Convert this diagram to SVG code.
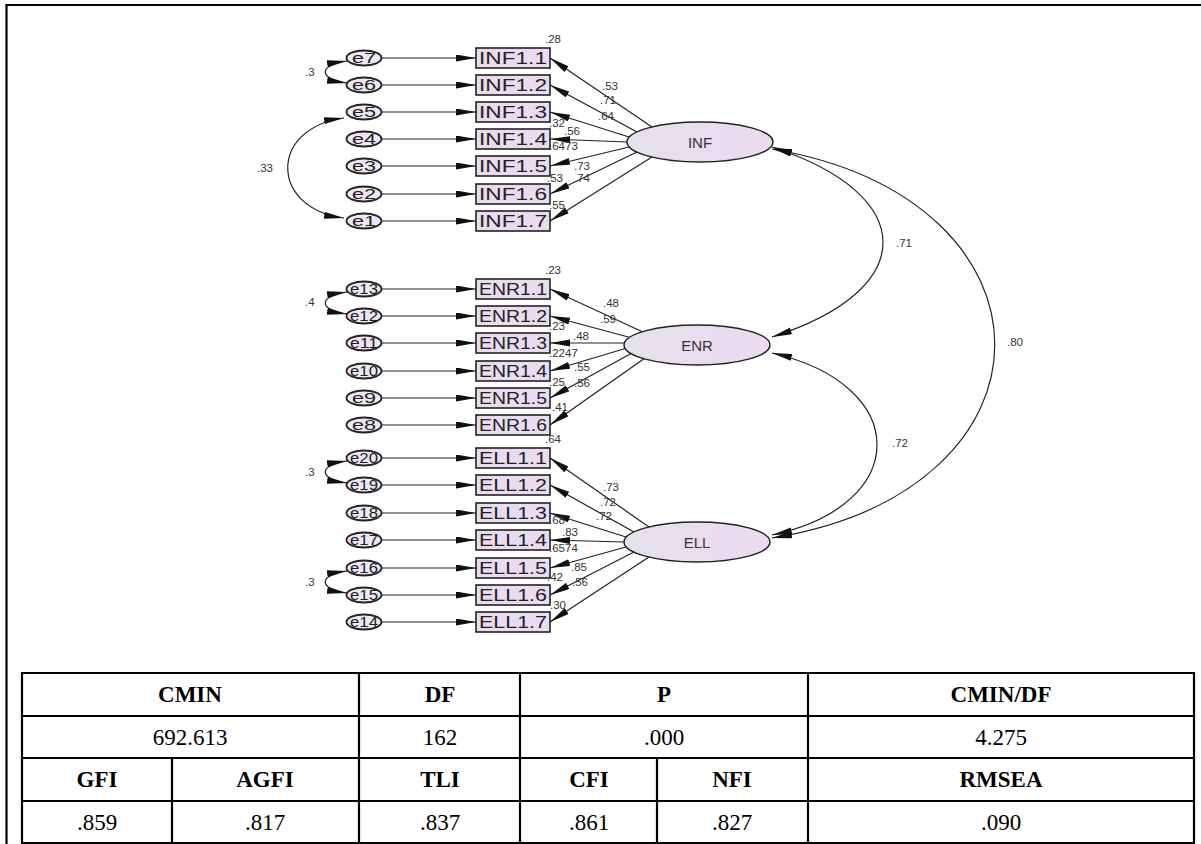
<svg xmlns="http://www.w3.org/2000/svg" width="1201" height="844" viewBox="0 0 1201 844">
<style>
.frame{stroke:#000;stroke-width:2.2;fill:none}
.err ellipse{fill:#efe5f4;stroke:#222;stroke-width:1.8}
.err text{font-family:"Liberation Sans",Arial,sans-serif;font-size:14px;fill:#222;text-anchor:middle}
.obs rect{fill:#eadcf0;stroke:#222;stroke-width:1.6}
.obs text{font-family:"Liberation Sans",Arial,sans-serif;font-size:17px;fill:#222}
.lat ellipse{fill:url(#lg);stroke:#222;stroke-width:1.5}
.lat text{font-family:"Liberation Sans",Arial,sans-serif;font-size:15px;fill:#333;text-anchor:middle}
.conn line,.conn path{stroke:#222;stroke-width:1.2;fill:none}
.conn .a{marker-end:url(#ah)}
.conn .b{marker-start:url(#ahs);marker-end:url(#ah)}
.lbl{font-family:"Liberation Sans",Arial,sans-serif;font-size:11.5px;fill:#333}
.tb line{stroke:#000;stroke-width:2.2}
.tb text{font-family:"Liberation Serif","Times New Roman",serif;font-size:23px;fill:#000;text-anchor:middle}
.tb .h{font-weight:bold}
</style>
<defs>
<linearGradient id="lg" x1="0" y1="0" x2="1" y2="0">
<stop offset="0" stop-color="#e4e2ec"/>
<stop offset="1" stop-color="#ecd9f0"/>
</linearGradient>
<marker id="ah" markerUnits="userSpaceOnUse" markerWidth="22" markerHeight="8" refX="20" refY="3.5" orient="auto">
<path d="M0,0 L20,3.5 L0,7 z" fill="#111"/>
</marker>
<marker id="ahs" markerUnits="userSpaceOnUse" markerWidth="22" markerHeight="8" refX="20" refY="3.5" orient="auto-start-reverse">
<path d="M0,0 L20,3.5 L0,7 z" fill="#111"/>
</marker>
</defs>
<rect width="1201" height="844" fill="#fff"/>
<path class="frame" d="M6.5,844 V5 H1201"/>

<g id="connectors" class="conn">
<line class="a" x1="381" y1="58" x2="476" y2="58"/>
<line class="a" x1="381" y1="85" x2="476" y2="85"/>
<line class="a" x1="381" y1="112" x2="476" y2="112"/>
<line class="a" x1="381" y1="139" x2="476" y2="139"/>
<line class="a" x1="381" y1="166" x2="476" y2="166"/>
<line class="a" x1="381" y1="194" x2="476" y2="194"/>
<line class="a" x1="381" y1="221" x2="476" y2="221"/>
<line class="a" x1="381" y1="289" x2="476" y2="289"/>
<line class="a" x1="381" y1="316" x2="476" y2="316"/>
<line class="a" x1="381" y1="343" x2="476" y2="343"/>
<line class="a" x1="381" y1="371" x2="476" y2="371"/>
<line class="a" x1="381" y1="398" x2="476" y2="398"/>
<line class="a" x1="381" y1="425" x2="476" y2="425"/>
<line class="a" x1="381" y1="458" x2="476" y2="458"/>
<line class="a" x1="381" y1="485" x2="476" y2="485"/>
<line class="a" x1="381" y1="513" x2="476" y2="513"/>
<line class="a" x1="381" y1="540" x2="476" y2="540"/>
<line class="a" x1="381" y1="568" x2="476" y2="568"/>
<line class="a" x1="381" y1="595" x2="476" y2="595"/>
<line class="a" x1="381" y1="622" x2="476" y2="622"/>
<line class="a" x1="652" y1="127" x2="550" y2="58"/>
<line class="a" x1="637" y1="132" x2="550" y2="85"/>
<line class="a" x1="629" y1="137" x2="550" y2="112"/>
<line class="a" x1="627" y1="142" x2="550" y2="139"/>
<line class="a" x1="629" y1="147" x2="550" y2="166"/>
<line class="a" x1="637" y1="152" x2="550" y2="194"/>
<line class="a" x1="652" y1="157" x2="550" y2="221"/>
<line class="a" x1="645" y1="333" x2="550" y2="289"/>
<line class="a" x1="632" y1="338" x2="550" y2="316"/>
<line class="a" x1="627" y1="343" x2="550" y2="343"/>
<line class="a" x1="627" y1="348" x2="550" y2="371"/>
<line class="a" x1="632" y1="353" x2="550" y2="398"/>
<line class="a" x1="645" y1="358" x2="550" y2="425"/>
<line class="a" x1="649" y1="527" x2="550" y2="458"/>
<line class="a" x1="634" y1="532" x2="550" y2="485"/>
<line class="a" x1="626" y1="537" x2="550" y2="513"/>
<line class="a" x1="624" y1="542" x2="550" y2="540"/>
<line class="a" x1="626" y1="547" x2="550" y2="568"/>
<line class="a" x1="634" y1="552" x2="550" y2="595"/>
<line class="a" x1="649" y1="557" x2="550" y2="622"/>
<path class="b" d="M344,118 C269,128 269,208 344,218"/>
<path class="b" d="M347,61 C318,65 318,79 347,83"/>
<path class="b" d="M347,292 C318,296 318,310 347,314"/>
<path class="b" d="M347,461 C318,465 318,479 347,483"/>
<path class="b" d="M347,571 C318,575 318,589 347,593"/>
<path class="b" d="M772,147 C920,195 920,290 772,337"/>
<path class="b" d="M772,353 C912,385 912,505 772,535"/>
<path class="b" d="M772,149 C1069,200 1069,490 772,538"/>
</g>

<g id="INF" class="lat"><ellipse cx="700" cy="142" rx="73" ry="20"/><text x="700" y="147.5">INF</text></g>
<g id="ENR" class="lat"><ellipse cx="697" cy="345" rx="73" ry="20"/><text x="697" y="350.5">ENR</text></g>
<g id="ELL" class="lat"><ellipse cx="697" cy="542" rx="73" ry="20"/><text x="697" y="547.5">ELL</text></g>

<g id="e7" class="err"><ellipse cx="364" cy="58" rx="17.5" ry="7.5"/><text x="364" y="63" textLength="24" lengthAdjust="spacingAndGlyphs">e7</text></g>
<g id="e6" class="err"><ellipse cx="364" cy="85" rx="17.5" ry="7.5"/><text x="364" y="90" textLength="24" lengthAdjust="spacingAndGlyphs">e6</text></g>
<g id="e5" class="err"><ellipse cx="364" cy="112" rx="17.5" ry="7.5"/><text x="364" y="117" textLength="24" lengthAdjust="spacingAndGlyphs">e5</text></g>
<g id="e4" class="err"><ellipse cx="364" cy="139" rx="17.5" ry="7.5"/><text x="364" y="144" textLength="24" lengthAdjust="spacingAndGlyphs">e4</text></g>
<g id="e3" class="err"><ellipse cx="364" cy="166" rx="17.5" ry="7.5"/><text x="364" y="171" textLength="24" lengthAdjust="spacingAndGlyphs">e3</text></g>
<g id="e2" class="err"><ellipse cx="364" cy="194" rx="17.5" ry="7.5"/><text x="364" y="199" textLength="24" lengthAdjust="spacingAndGlyphs">e2</text></g>
<g id="e1" class="err"><ellipse cx="364" cy="221" rx="17.5" ry="7.5"/><text x="364" y="226" textLength="24" lengthAdjust="spacingAndGlyphs">e1</text></g>
<g id="e13" class="err"><ellipse cx="364" cy="289" rx="17.5" ry="7.5"/><text x="364" y="294" textLength="28" lengthAdjust="spacingAndGlyphs">e13</text></g>
<g id="e12" class="err"><ellipse cx="364" cy="316" rx="17.5" ry="7.5"/><text x="364" y="321" textLength="28" lengthAdjust="spacingAndGlyphs">e12</text></g>
<g id="e11" class="err"><ellipse cx="364" cy="343" rx="17.5" ry="7.5"/><text x="364" y="348" textLength="28" lengthAdjust="spacingAndGlyphs">e11</text></g>
<g id="e10" class="err"><ellipse cx="364" cy="371" rx="17.5" ry="7.5"/><text x="364" y="376" textLength="28" lengthAdjust="spacingAndGlyphs">e10</text></g>
<g id="e9" class="err"><ellipse cx="364" cy="398" rx="17.5" ry="7.5"/><text x="364" y="403" textLength="24" lengthAdjust="spacingAndGlyphs">e9</text></g>
<g id="e8" class="err"><ellipse cx="364" cy="425" rx="17.5" ry="7.5"/><text x="364" y="430" textLength="24" lengthAdjust="spacingAndGlyphs">e8</text></g>
<g id="e20" class="err"><ellipse cx="364" cy="458" rx="17.5" ry="7.5"/><text x="364" y="463" textLength="28" lengthAdjust="spacingAndGlyphs">e20</text></g>
<g id="e19" class="err"><ellipse cx="364" cy="485" rx="17.5" ry="7.5"/><text x="364" y="490" textLength="28" lengthAdjust="spacingAndGlyphs">e19</text></g>
<g id="e18" class="err"><ellipse cx="364" cy="513" rx="17.5" ry="7.5"/><text x="364" y="518" textLength="28" lengthAdjust="spacingAndGlyphs">e18</text></g>
<g id="e17" class="err"><ellipse cx="364" cy="540" rx="17.5" ry="7.5"/><text x="364" y="545" textLength="28" lengthAdjust="spacingAndGlyphs">e17</text></g>
<g id="e16" class="err"><ellipse cx="364" cy="568" rx="17.5" ry="7.5"/><text x="364" y="573" textLength="28" lengthAdjust="spacingAndGlyphs">e16</text></g>
<g id="e15" class="err"><ellipse cx="364" cy="595" rx="17.5" ry="7.5"/><text x="364" y="600" textLength="28" lengthAdjust="spacingAndGlyphs">e15</text></g>
<g id="e14" class="err"><ellipse cx="364" cy="622" rx="17.5" ry="7.5"/><text x="364" y="627" textLength="28" lengthAdjust="spacingAndGlyphs">e14</text></g>

<g id="INF1.1" class="obs"><rect x="476" y="48" width="74" height="20"/><text x="479" y="64" textLength="68" lengthAdjust="spacingAndGlyphs">INF1.1</text></g>
<g id="INF1.2" class="obs"><rect x="476" y="75" width="74" height="20"/><text x="479" y="91" textLength="68" lengthAdjust="spacingAndGlyphs">INF1.2</text></g>
<g id="INF1.3" class="obs"><rect x="476" y="102" width="74" height="20"/><text x="479" y="118" textLength="68" lengthAdjust="spacingAndGlyphs">INF1.3</text></g>
<g id="INF1.4" class="obs"><rect x="476" y="129" width="74" height="20"/><text x="479" y="145" textLength="68" lengthAdjust="spacingAndGlyphs">INF1.4</text></g>
<g id="INF1.5" class="obs"><rect x="476" y="156" width="74" height="20"/><text x="479" y="172" textLength="68" lengthAdjust="spacingAndGlyphs">INF1.5</text></g>
<g id="INF1.6" class="obs"><rect x="476" y="184" width="74" height="20"/><text x="479" y="200" textLength="68" lengthAdjust="spacingAndGlyphs">INF1.6</text></g>
<g id="INF1.7" class="obs"><rect x="476" y="211" width="74" height="20"/><text x="479" y="227" textLength="68" lengthAdjust="spacingAndGlyphs">INF1.7</text></g>
<g id="ENR1.1" class="obs"><rect x="476" y="279" width="74" height="20"/><text x="479" y="295" textLength="68" lengthAdjust="spacingAndGlyphs">ENR1.1</text></g>
<g id="ENR1.2" class="obs"><rect x="476" y="306" width="74" height="20"/><text x="479" y="322" textLength="68" lengthAdjust="spacingAndGlyphs">ENR1.2</text></g>
<g id="ENR1.3" class="obs"><rect x="476" y="333" width="74" height="20"/><text x="479" y="349" textLength="68" lengthAdjust="spacingAndGlyphs">ENR1.3</text></g>
<g id="ENR1.4" class="obs"><rect x="476" y="361" width="74" height="20"/><text x="479" y="377" textLength="68" lengthAdjust="spacingAndGlyphs">ENR1.4</text></g>
<g id="ENR1.5" class="obs"><rect x="476" y="388" width="74" height="20"/><text x="479" y="404" textLength="68" lengthAdjust="spacingAndGlyphs">ENR1.5</text></g>
<g id="ENR1.6" class="obs"><rect x="476" y="415" width="74" height="20"/><text x="479" y="431" textLength="68" lengthAdjust="spacingAndGlyphs">ENR1.6</text></g>
<g id="ELL1.1" class="obs"><rect x="476" y="448" width="74" height="20"/><text x="479" y="464" textLength="68" lengthAdjust="spacingAndGlyphs">ELL1.1</text></g>
<g id="ELL1.2" class="obs"><rect x="476" y="475" width="74" height="20"/><text x="479" y="491" textLength="68" lengthAdjust="spacingAndGlyphs">ELL1.2</text></g>
<g id="ELL1.3" class="obs"><rect x="476" y="503" width="74" height="20"/><text x="479" y="519" textLength="68" lengthAdjust="spacingAndGlyphs">ELL1.3</text></g>
<g id="ELL1.4" class="obs"><rect x="476" y="530" width="74" height="20"/><text x="479" y="546" textLength="68" lengthAdjust="spacingAndGlyphs">ELL1.4</text></g>
<g id="ELL1.5" class="obs"><rect x="476" y="558" width="74" height="20"/><text x="479" y="574" textLength="68" lengthAdjust="spacingAndGlyphs">ELL1.5</text></g>
<g id="ELL1.6" class="obs"><rect x="476" y="585" width="74" height="20"/><text x="479" y="601" textLength="68" lengthAdjust="spacingAndGlyphs">ELL1.6</text></g>
<g id="ELL1.7" class="obs"><rect x="476" y="612" width="74" height="20"/><text x="479" y="628" textLength="68" lengthAdjust="spacingAndGlyphs">ELL1.7</text></g>

<g id="labels" class="lbl">
<text x="545" y="43">.28</text>
<text x="602" y="90">.53</text>
<text x="600" y="104">.71</text>
<text x="598" y="120">.64</text>
<text x="549" y="127">.32</text>
<text x="564" y="135">.56</text>
<text x="549" y="150">.6473</text>
<text x="574" y="170">.73</text>
<text x="547" y="182">.53</text>
<text x="574" y="182">.74</text>
<text x="549" y="209">.55</text>
<text x="257" y="172">.33</text>
<text x="305" y="76">.3</text>
<text x="545" y="274">.23</text>
<text x="603" y="307">.48</text>
<text x="600" y="323">.59</text>
<text x="573" y="340">.48</text>
<text x="549" y="330">.23</text>
<text x="549" y="357">.2247</text>
<text x="574" y="371">.55</text>
<text x="549" y="386">.25</text>
<text x="574" y="387">.56</text>
<text x="552" y="411">.41</text>
<text x="545" y="443">.64</text>
<text x="305" y="306">.4</text>
<text x="603" y="491">.73</text>
<text x="600" y="506">.72</text>
<text x="596" y="520">.72</text>
<text x="549" y="524">.68</text>
<text x="562" y="536">.83</text>
<text x="549" y="552">.6574</text>
<text x="571" y="571">.85</text>
<text x="547" y="581">.42</text>
<text x="572" y="586">.56</text>
<text x="550" y="609">.30</text>
<text x="305" y="476">.3</text>
<text x="305" y="586">.3</text>
<text x="896" y="247">.71</text>
<text x="892" y="447">.72</text>
<text x="1007" y="346">.80</text>
</g>

<g id="fit-table" class="tb">
<line x1="22" y1="673" x2="1194" y2="673"/>
<line x1="22" y1="716" x2="1194" y2="716"/>
<line x1="22" y1="758" x2="1194" y2="758"/>
<line x1="22" y1="801" x2="1194" y2="801"/>
<line x1="22" y1="843" x2="1194" y2="843"/>
<line x1="22" y1="672" x2="22" y2="844"/>
<line x1="1194" y1="672" x2="1194" y2="844"/>
<line x1="359" y1="673" x2="359" y2="843"/>
<line x1="520" y1="673" x2="520" y2="843"/>
<line x1="808" y1="673" x2="808" y2="843"/>
<line x1="172" y1="758" x2="172" y2="843"/>
<line x1="657" y1="758" x2="657" y2="843"/>
<text class="h" x="190" y="702">CMIN</text>
<text class="h" x="440" y="702">DF</text>
<text class="h" x="664" y="702">P</text>
<text class="h" x="1001" y="702">CMIN/DF</text>
<text x="190" y="745">692.613</text>
<text x="440" y="745">162</text>
<text x="664" y="745">.000</text>
<text x="1001" y="745">4.275</text>
<text class="h" x="97" y="787">GFI</text>
<text class="h" x="265" y="787">AGFI</text>
<text class="h" x="440" y="787">TLI</text>
<text class="h" x="589" y="787">CFI</text>
<text class="h" x="732" y="787">NFI</text>
<text class="h" x="1001" y="787">RMSEA</text>
<text x="97" y="830">.859</text>
<text x="265" y="830">.817</text>
<text x="440" y="830">.837</text>
<text x="589" y="830">.861</text>
<text x="732" y="830">.827</text>
<text x="1001" y="830">.090</text>
</g>
</svg>
